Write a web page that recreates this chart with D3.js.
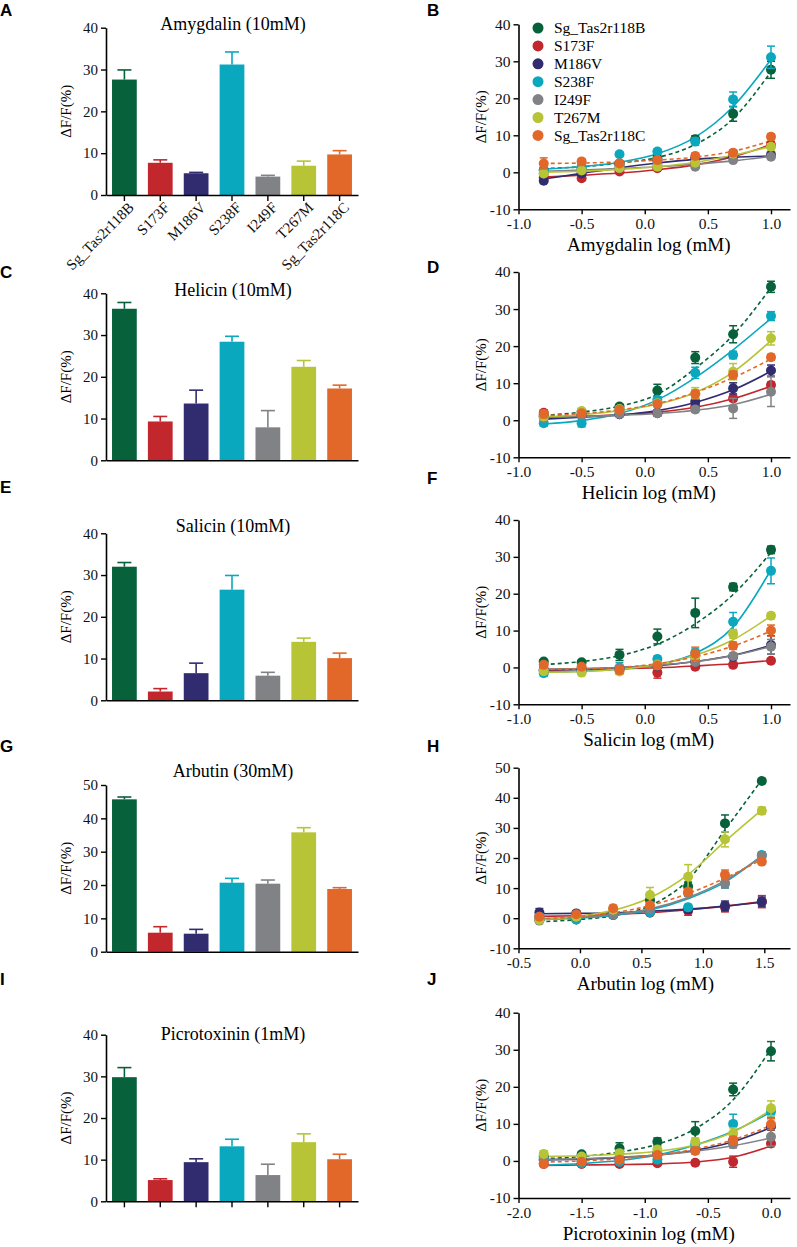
<!DOCTYPE html>
<html><head><meta charset="utf-8">
<script src="https://cdn.jsdelivr.net/npm/d3@7"></script>
<style>body{margin:0;background:#fff}svg{display:block}</style>
</head><body>
<svg id="c" width="797" height="1247"></svg>
<script>
// ---------------- DATA ----------------
const groups = ["Sg_Tas2r118B","S173F","M186V","S238F","I249F","T267M","Sg_Tas2r118C"];
const colors = ["#07613a","#c1272d","#312c70","#0aa8bf","#808285","#b7c435","#e2682a"];
const dashedSeries = [true,false,false,false,false,false,true];

// bar charts (mean, SEM)
const barAmygdalin    = [27.6, 7.7, 5.2, 31.2, 4.4, 7.0, 9.7];
const barAmygdalinSem = [2.3, 0.7, 0.2, 3.0, 0.3, 1.1, 0.9];
const barHelicin      = [36.3, 9.3, 13.6, 28.4, 7.9, 22.4, 17.2];
const barHelicinSem   = [1.5, 1.2, 3.2, 1.3, 4.0, 1.5, 0.8];
const barSalicin      = [32.0, 2.1, 6.5, 26.5, 5.9, 14.0, 10.1];
const barSalicinSem   = [1.0, 0.7, 2.4, 3.4, 0.8, 0.9, 1.2];
const barArbutin      = [45.7, 5.7, 5.4, 20.7, 20.4, 35.8, 18.8];
const barArbutinSem   = [0.7, 1.8, 1.3, 1.3, 1.1, 1.4, 0.4];
const barPicro        = [29.8, 5.1, 9.4, 13.2, 6.3, 14.2, 10.1];
const barPicroSem     = [2.3, 0.3, 0.8, 1.7, 2.6, 2.0, 1.2];

const barTicks40 = [0,10,20,30,40];
const barTicks50 = [0,10,20,30,40,50];

// dose-response (x = log mM), per series: mean, SEM, fitted curve
const xAmygdalin = [-0.8,-0.5,-0.2,0.1,0.4,0.7,1.0];
const meanAmygdalin = [
  [0.6,1.1,2.4,3.8,8.9,15.8,27.7],
  [-1.4,-1.6,0.2,1.1,2.4,5.1,7.4],
  [-2.3,-0.3,1.8,3.2,3.8,4.2,4.7],
  [0.6,1.5,4.9,5.6,8.3,19.7,31.1],
  [-0.3,0.6,1.1,2.0,1.5,3.3,4.2],
  [-0.3,0.5,1.2,1.5,2.6,5.0,6.9],
  [2.4,2.9,2.4,3.3,4.4,5.3,9.6]];
const semAmygdalin = [
  [0.5,0.5,0.6,0.8,1.0,2.0,2.3],
  [0.6,0.6,0.5,0.5,0.6,0.7,0.8],
  [0.5,0.5,0.5,0.5,0.5,0.5,0.5],
  [0.5,0.5,0.6,0.7,1.0,2.0,3.0],
  [0.5,0.5,0.5,0.5,0.5,0.5,0.6],
  [0.5,0.5,0.5,0.5,0.5,0.6,0.8],
  [1.5,0.8,0.8,0.8,0.8,0.8,0.8]];
const fitAmygdalin = [
  [1.0,1.5,2.5,4.0,7.5,14.5,27.2],
  [-1.3,-0.8,-0.2,0.7,2.0,4.2,7.5],
  [-1.8,-0.3,1.2,2.5,3.5,4.1,4.4],
  [0.9,1.5,2.7,5.0,9.5,17.8,30.5],
  [0.3,0.6,1.0,1.5,2.2,3.1,4.3],
  [0.0,0.3,0.8,1.5,2.7,4.6,7.0],
  [2.4,2.5,2.8,3.3,4.1,5.7,8.5]];

const xHelicin = [-0.8,-0.5,-0.2,0.1,0.4,0.7,1.0];
const meanHelicin = [
  [1.4,2.3,3.7,8.0,16.9,23.2,36.0],
  [2.0,1.5,1.6,1.9,3.7,5.9,9.5],
  [1.0,1.4,1.6,2.1,5.0,8.6,13.4],
  [-0.8,-0.8,2.8,5.5,12.8,17.6,28.1],
  [0.6,1.4,1.7,1.9,2.9,3.2,7.7],
  [1.0,2.5,3.0,4.6,7.3,13.1,22.1],
  [1.7,1.9,2.8,4.4,7.1,12.2,17.0]];
const semHelicin = [
  [0.5,0.5,0.6,1.7,1.6,2.3,1.5],
  [0.8,0.5,0.5,0.8,0.8,0.8,0.8],
  [0.5,0.5,0.5,0.5,0.8,1.5,1.5],
  [0.8,1.0,0.5,0.8,1.5,1.0,1.2],
  [0.5,0.5,0.5,0.8,0.8,2.7,4.0],
  [0.8,0.5,0.5,0.8,1.5,2.2,1.8],
  [1.0,0.5,0.5,0.8,1.0,1.0,0.8]];
const fitHelicin = [
  [1.3,2.2,3.8,7.0,14.0,23.0,35.8],
  [0.8,1.1,1.5,2.2,3.5,5.8,9.2],
  [0.3,0.8,1.4,2.6,4.8,8.2,13.2],
  [-1.0,-0.1,1.8,5.5,11.5,19.0,27.5],
  [0.8,1.0,1.3,1.8,2.7,4.2,7.0],
  [1.0,1.5,2.6,4.3,7.5,13.0,21.5],
  [1.2,1.8,2.8,4.5,7.5,11.5,16.5]];

const xSalicin = [-0.8,-0.5,-0.2,0.1,0.4,0.7,1.0];
const meanSalicin = [
  [1.6,1.4,3.4,8.4,14.8,21.8,31.9],
  [-0.8,-0.6,-0.5,-1.4,0.2,0.7,1.8],
  [-0.7,-0.5,-0.2,0.3,1.6,2.9,6.1],
  [-1.6,-1.0,-0.2,2.3,4.0,12.4,26.2],
  [-0.5,-0.3,0.0,0.6,1.5,3.1,5.6],
  [-1.0,-1.4,-1.1,0.8,3.0,9.1,14.0],
  [0.7,0.2,-0.7,0.5,3.7,5.9,10.0]];
const semSalicin = [
  [0.5,0.5,1.5,2.0,4.0,1.0,1.0],
  [0.5,0.5,0.5,1.5,0.5,0.5,0.5],
  [0.5,0.5,0.5,0.5,0.5,0.8,2.5],
  [0.8,0.5,1.5,0.8,1.0,2.5,3.5],
  [0.5,0.5,0.5,0.5,0.5,0.8,2.0],
  [0.5,0.5,0.5,0.5,1.0,1.2,0.8],
  [0.5,0.5,1.0,0.5,1.8,1.0,1.5]];
const fitSalicin = [
  [0.8,1.6,3.2,6.3,11.8,19.8,31.2],
  [-0.8,-0.6,-0.4,-0.1,0.4,1.0,1.9],
  [-0.6,-0.4,0.0,0.5,1.6,3.3,6.0],
  [-1.2,-1.0,-0.5,0.8,3.8,11.0,26.5],
  [-0.5,-0.3,0.0,0.6,1.6,3.2,5.7],
  [-1.3,-1.1,-0.5,0.8,3.3,7.5,14.0],
  [-0.5,-0.4,0.0,1.0,2.9,5.8,9.9]];

const xArbutin = [-0.33,-0.03,0.27,0.57,0.88,1.18,1.48];
const meanArbutin = [
  [-0.6,-0.4,1.1,6.0,10.5,31.5,45.6],
  [0.5,1.0,1.1,1.8,2.5,3.6,5.5],
  [1.9,1.6,1.3,2.2,3.0,4.1,5.5],
  [0.5,-0.4,1.1,2.0,3.6,11.5,21.0],
  [-0.8,0.3,1.2,3.0,8.3,11.6,20.7],
  [-0.6,0.5,2.8,7.7,13.8,26.2,35.7],
  [0.5,1.3,3.3,4.3,8.8,14.4,18.8]];
const semArbutin = [
  [0.5,0.5,0.5,0.8,1.5,2.8,0.8],
  [1.0,0.8,0.5,0.8,1.5,1.5,2.0],
  [1.3,0.8,0.8,0.8,1.2,1.6,1.5],
  [0.8,0.5,0.8,1.0,1.0,1.5,1.0],
  [0.5,0.5,0.5,0.8,1.0,1.5,1.0],
  [0.5,0.5,0.8,2.5,4.0,2.5,1.2],
  [0.8,0.8,1.0,0.8,1.0,1.6,0.8]];
const fitArbutin = [
  [-1.2,-0.5,0.8,4.2,12.7,29.3,46.0],
  [0.6,0.8,1.2,1.8,2.8,4.0,5.5],
  [1.5,1.6,1.8,2.3,3.0,4.0,5.3],
  [-0.5,0.0,0.9,2.7,6.5,12.0,20.8],
  [-0.2,0.3,1.2,3.1,6.9,12.5,20.5],
  [-0.5,0.5,2.6,6.8,14.5,25.5,36.0],
  [-0.3,0.5,1.8,4.2,8.2,13.3,19.5]];

const xPicro = [-1.8,-1.5,-1.2,-0.9,-0.6,-0.3,0.0];
const meanPicro = [
  [1.2,1.8,3.4,5.2,8.1,19.3,29.6],
  [-0.8,-0.8,-0.8,-0.6,-0.5,-0.2,4.7],
  [0.3,0.5,0.8,2.0,3.0,5.6,9.3],
  [0.5,-0.6,-0.3,0.3,4.5,10.0,13.3],
  [0.2,0.0,0.3,1.6,3.0,4.5,6.5],
  [1.9,1.2,2.1,3.1,5.2,7.4,14.2],
  [-0.8,-0.2,0.3,1.6,2.7,5.6,9.9]];
const semPicro = [
  [0.5,0.5,1.5,1.0,2.5,1.7,2.6],
  [0.5,0.5,0.5,0.5,0.5,1.5,0.8],
  [0.5,0.5,0.5,0.5,0.5,0.8,1.0],
  [0.5,0.8,0.5,0.5,1.0,2.6,1.5],
  [0.5,0.5,0.5,0.5,0.8,1.0,2.5],
  [0.8,0.5,0.8,0.8,1.0,1.5,2.0],
  [0.5,0.5,0.5,0.5,0.8,1.0,1.5]];
const fitPicro = [
  [0.6,1.2,2.4,4.5,8.7,16.5,30.2],
  [-1.2,-1.1,-1.0,-0.8,-0.3,1.0,4.0],
  [0.3,0.5,0.9,1.6,2.9,5.2,9.0],
  [-1.2,-0.7,0.1,1.6,4.3,8.0,13.2],
  [0.4,0.6,1.0,1.6,2.6,4.1,6.2],
  [1.2,1.4,1.8,2.6,4.3,7.8,13.8],
  [-0.3,0.0,0.6,1.6,3.2,5.7,9.6]];

const lineYTicks40 = [-10,0,10,20,30,40];
const lineYTicks50 = [-10,0,10,20,30,40,50];
const xTicksA = [-1.0,-0.5,0.0,0.5,1.0];
const xTicksH = [-0.5,0.0,0.5,1.0,1.5];
const xTicksJ = [-2.0,-1.5,-1.0,-0.5,0.0];

// ---------------- DRAW ----------------
const svg = d3.select("#c");
const SERIF = "'Liberation Serif','Times New Roman',serif";
const SANS = "'Liberation Sans',Arial,sans-serif";

function styleAxis(g, fs) {
  g.selectAll("path.domain").attr("stroke","#000").attr("stroke-width",1.6);
  g.selectAll(".tick line").attr("stroke","#000").attr("stroke-width",1.4);
  g.selectAll(".tick text").attr("font-family",SERIF).attr("font-size",fs).attr("fill","#111");
}

function panelLetter(t, x, y) {
  svg.append("text").attr("x",x).attr("y",y).text(t)
    .attr("font-family",SANS).attr("font-weight","bold").attr("font-size",17).attr("fill","#000");
}

function barPanel(cfg) {
  const g = svg.append("g");
  const x = d3.scaleBand().domain(groups).range([106,358]).paddingInner(0.31).paddingOuter(0.168);
  const y = d3.scaleLinear().domain([0,cfg.max]).range([cfg.yBottom, cfg.yTop]);
  const bw = x.bandwidth();
  g.selectAll("rect.bar").data(cfg.values).join("rect")
    .attr("x",(d,i)=>x(groups[i])).attr("y",d=>y(d))
    .attr("width",bw).attr("height",d=>y(0)-y(d))
    .attr("fill",(d,i)=>colors[i]);
  cfg.values.forEach((v,i)=>{
    const cx = x(groups[i]) + bw/2;
    const top = y(v + cfg.sem[i]);
    g.append("line").attr("x1",cx).attr("x2",cx).attr("y1",y(v)).attr("y2",top)
      .attr("stroke",colors[i]).attr("stroke-width",1.6);
    g.append("line").attr("x1",cx-7).attr("x2",cx+7).attr("y1",top).attr("y2",top)
      .attr("stroke",colors[i]).attr("stroke-width",1.6);
  });
  const ya = g.append("g").attr("transform","translate(106,0)")
    .call(d3.axisLeft(y).tickValues(cfg.ticks).tickSize(5).tickSizeOuter(0).tickPadding(3).tickFormat(d3.format("d")));
  styleAxis(ya, 15);
  const xa = g.append("g").attr("transform",`translate(0,${cfg.yBottom})`)
    .call(d3.axisBottom(x).tickSize(cfg.showTicks?6:0).tickSizeOuter(0).tickFormat(()=>""));
  styleAxis(xa, 15);
  if (cfg.rotLabels) {
    groups.forEach(gname=>{
      const cx = x(gname) + bw/2;
      g.append("text")
        .attr("transform",`translate(${cx+8},${cfg.yBottom+11}) rotate(-45)`)
        .attr("text-anchor","end").attr("dominant-baseline","middle")
        .attr("font-family",SERIF).attr("font-size",15).attr("fill","#111")
        .text(gname);
    });
  }
  g.append("text").attr("x",233).attr("y",cfg.titleY).attr("text-anchor","middle")
    .attr("font-family",SERIF).attr("font-size",18).text(cfg.title);
  const my = (cfg.yTop + cfg.yBottom)/2;
  g.append("text").attr("transform",`translate(71,${my}) rotate(-90)`).attr("text-anchor","middle")
    .attr("font-family",SERIF).attr("font-size",15).text("ΔF/F(%)");
}

function linePanel(cfg) {
  const g = svg.append("g");
  const x0 = 518.5, xEndAxis = 790;
  const x = d3.scaleLinear().domain([cfg.xTicks[0], cfg.xTicks[cfg.xTicks.length-1]]).range([x0, cfg.xLastPx]);
  const xExt = x.invert(xEndAxis);
  x.domain([cfg.xTicks[0], xExt]).range([x0, xEndAxis]);
  const y = d3.scaleLinear().domain([-10, cfg.yMax]).range([cfg.yBottom, cfg.yTop]);

  const ya = g.append("g").attr("transform",`translate(${x0},0)`)
    .call(d3.axisLeft(y).tickValues(cfg.yTicks).tickSize(5).tickSizeOuter(0).tickPadding(3).tickFormat(d=>String(d)));
  styleAxis(ya, 15.5);
  const xa = g.append("g").attr("transform",`translate(0,${cfg.yBottom})`)
    .call(d3.axisBottom(x).tickValues(cfg.xTicks).tickSize(5).tickSizeOuter(0).tickPadding(4).tickFormat(d=>d.toFixed(1)));
  styleAxis(xa, 15.5);

  const line = d3.line().x((d,i)=>x(cfg.xs[i])).y(d=>y(d)).curve(d3.curveMonotoneX);
  for (let s=0; s<groups.length; s++) {
    g.append("path").attr("d", line(cfg.fit[s])).attr("fill","none")
      .attr("stroke",colors[s]).attr("stroke-width",1.6)
      .attr("stroke-dasharray", dashedSeries[s] ? "4,3" : null);
  }
  for (let s=0; s<groups.length; s++) {
    cfg.mean[s].forEach((m,i)=>{
      const cx = x(cfg.xs[i]);
      const e = cfg.sem[s][i];
      const y1 = y(m-e), y2 = y(m+e);
      g.append("line").attr("x1",cx).attr("x2",cx).attr("y1",y1).attr("y2",y2).attr("stroke",colors[s]).attr("stroke-width",1.5);
      g.append("line").attr("x1",cx-4).attr("x2",cx+4).attr("y1",y1).attr("y2",y1).attr("stroke",colors[s]).attr("stroke-width",1.5);
      g.append("line").attr("x1",cx-4).attr("x2",cx+4).attr("y1",y2).attr("y2",y2).attr("stroke",colors[s]).attr("stroke-width",1.5);
      g.append("circle").attr("cx",cx).attr("cy",y(m)).attr("r",5).attr("fill",colors[s]);
    });
  }
  g.append("text").attr("x",(x0+ x(cfg.xTicks[cfg.xTicks.length-1]))/2 + 4).attr("y",cfg.yBottom+42).attr("text-anchor","middle")
    .attr("font-family",SERIF).attr("font-size",19).text(cfg.xLabel);
  g.append("text").attr("transform",`translate(486,${(cfg.yTop+cfg.yBottom)/2}) rotate(-90)`).attr("text-anchor","middle")
    .attr("font-family",SERIF).attr("font-size",15).text("ΔF/F(%)");
  if (cfg.legend) {
    groups.forEach((gname,i)=>{
      const ly = 28 + i*17.9;
      g.append("circle").attr("cx",538).attr("cy",ly).attr("r",5.5).attr("fill",colors[i]);
      g.append("text").attr("x",554).attr("y",ly).attr("dy","0.35em")
        .attr("font-family",SERIF).attr("font-size",15.5).text(gname);
    });
  }
}

barPanel({values:barAmygdalin, sem:barAmygdalinSem, max:40, ticks:barTicks40, yTop:27.7, yBottom:195, titleY:30, title:"Amygdalin (10mM)", showTicks:true, rotLabels:true});
barPanel({values:barHelicin, sem:barHelicinSem, max:40, ticks:barTicks40, yTop:293.3, yBottom:460.3, titleY:296, title:"Helicin (10mM)", showTicks:false, rotLabels:false});
barPanel({values:barSalicin, sem:barSalicinSem, max:40, ticks:barTicks40, yTop:533.3, yBottom:700.3, titleY:532, title:"Salicin (10mM)", showTicks:false, rotLabels:false});
barPanel({values:barArbutin, sem:barArbutinSem, max:50, ticks:barTicks50, yTop:785, yBottom:951.7, titleY:777, title:"Arbutin (30mM)", showTicks:false, rotLabels:false});
barPanel({values:barPicro, sem:barPicroSem, max:40, ticks:barTicks40, yTop:1034.7, yBottom:1201.3, titleY:1040, title:"Picrotoxinin (1mM)", showTicks:true, rotLabels:false});

linePanel({xs:xAmygdalin, mean:meanAmygdalin, sem:semAmygdalin, fit:fitAmygdalin, xTicks:xTicksA, xLastPx:771, yMax:40, yTicks:lineYTicks40, yTop:24.3, yBottom:209.3, xLabel:"Amygdalin log (mM)", legend:true});
linePanel({xs:xHelicin, mean:meanHelicin, sem:semHelicin, fit:fitHelicin, xTicks:xTicksA, xLastPx:771, yMax:40, yTicks:lineYTicks40, yTop:272, yBottom:457.3, xLabel:"Helicin log (mM)"});
linePanel({xs:xSalicin, mean:meanSalicin, sem:semSalicin, fit:fitSalicin, xTicks:xTicksA, xLastPx:771, yMax:40, yTicks:lineYTicks40, yTop:520, yBottom:704.3, xLabel:"Salicin log (mM)"});
linePanel({xs:xArbutin, mean:meanArbutin, sem:semArbutin, fit:fitArbutin, xTicks:xTicksH, xLastPx:764.3, yMax:50, yTicks:lineYTicks50, yTop:767.7, yBottom:948.3, xLabel:"Arbutin log (mM)"});
linePanel({xs:xPicro, mean:meanPicro, sem:semPicro, fit:fitPicro, xTicks:xTicksJ, xLastPx:771, yMax:40, yTicks:lineYTicks40, yTop:1012.7, yBottom:1198, xLabel:"Picrotoxinin log (mM)"});

panelLetter("A",0,16); panelLetter("B",427,16);
panelLetter("C",0,278); panelLetter("D",427,273);
panelLetter("E",0,493); panelLetter("F",427,484);
panelLetter("G",0,752); panelLetter("H",427,752);
panelLetter("I",0,985); panelLetter("J",427,985);
</script>
</body></html>
